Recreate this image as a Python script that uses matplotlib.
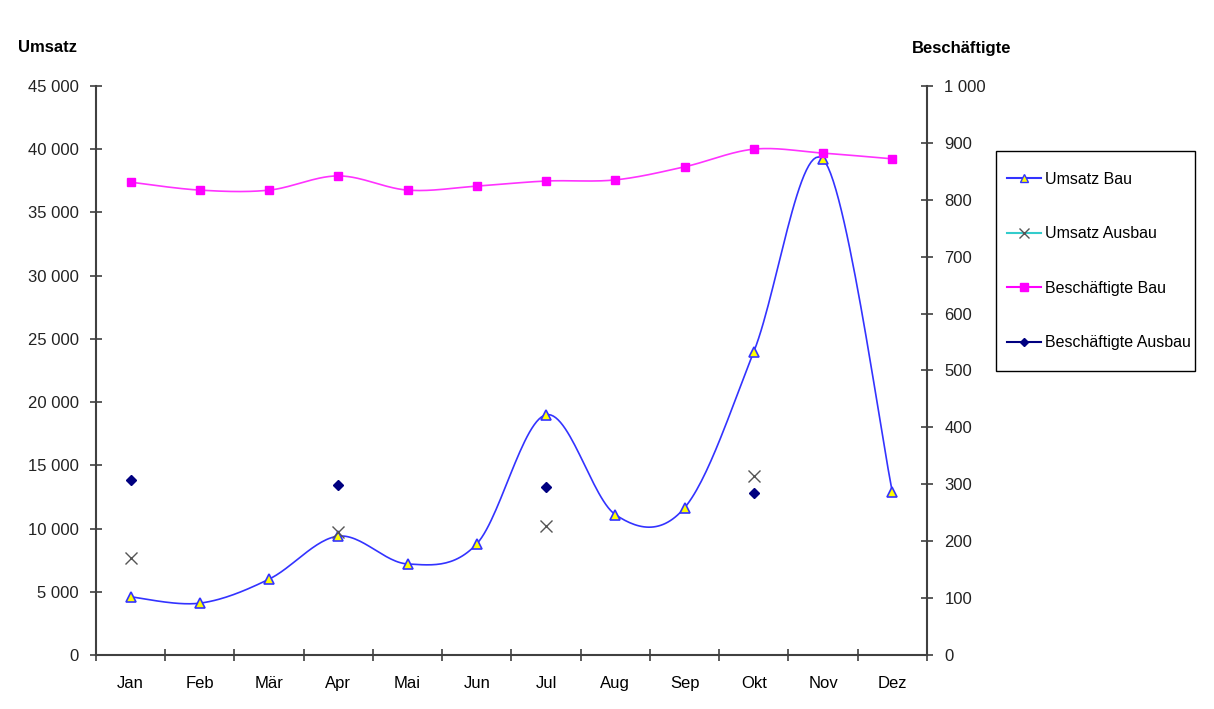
import numpy as np
import matplotlib.pyplot as plt
from matplotlib.lines import Line2D
from matplotlib.patches import Rectangle

plt.rcParams['font.family'] = ['Liberation Sans', 'DejaVu Sans']

# Daten
monate = ['Jan', 'Feb', 'Mär', 'Apr', 'Mai', 'Jun', 'Jul', 'Aug', 'Sep', 'Okt', 'Nov', 'Dez']
umsatz_bau = [4600, 4100, 6000, 9400, 7200, 8800, 19000, 11100, 11650, 24000, 39200, 12900]
umsatz_ausbau = [7700, np.nan, np.nan, 9750, np.nan, np.nan, 10200, np.nan, np.nan, 14150, np.nan, np.nan]
besch_bau = [831, 817, 817, 842, 817, 824, 833, 835, 858, 889, 882, 872]
besch_ausbau = [307, np.nan, np.nan, 299, np.nan, np.nan, 295, np.nan, np.nan, 285, np.nan, np.nan]


def glatt(x, y, n=30):
    # Bezier-Glättung wie in Excel (Catmull-Rom)
    x = np.asarray(x, float)
    y = np.asarray(y, float)
    xs, ys = [], []
    for i in range(len(x) - 1):
        i0, i3 = max(i - 1, 0), min(i + 2, len(x) - 1)
        p0, p1, p2, p3 = [np.array([x[k], y[k]]) for k in (i0, i, i + 1, i3)]
        c1 = p1 + (p2 - p0) / 6
        c2 = p2 - (p3 - p1) / 6
        t = np.linspace(0, 1, n)[:, None]
        b = (1 - t) ** 3 * p1 + 3 * (1 - t) ** 2 * t * c1 + 3 * (1 - t) * t ** 2 * c2 + t ** 3 * p2
        xs.extend(b[:, 0])
        ys.extend(b[:, 1])
    return xs, ys


x = np.arange(len(monate))

fig = plt.figure(figsize=(12.14, 7.09), dpi=100)
ax = fig.add_axes([96 / 1214, 54 / 709, 831 / 1214, 569 / 709])
ax2 = ax.twinx()

blau = '#3333FF'
ax.plot(*glatt(x, umsatz_bau), color=blau, lw=1.2, zorder=3)
ax.plot(x, umsatz_bau, ls='none', marker='^', ms=7, mfc='#FFFF00', mec=blau, mew=1.2, zorder=4)
ax.plot(x, umsatz_ausbau, ls='none', marker='x', ms=8, mec='#555555', mew=1.0, zorder=4)

ax2.plot(*glatt(x, besch_bau), color='#FF33FF', lw=1.2, zorder=3)
ax2.plot(x, besch_bau, ls='none', marker='s', ms=6, color='#FF00FF', zorder=4)
ax2.plot(x, besch_ausbau, ls='none', marker='D', ms=5, color='#000080', zorder=4)

ax.set_xlim(-0.5, 11.5)
ax.set_ylim(0, 45000)
ax2.set_ylim(0, 1000)
ax.set_yticks(np.arange(0, 45001, 5000))
ax2.set_yticks(np.arange(0, 1001, 100))
fmt = lambda v: f'{int(v):,}'.replace(',', ' ')
ax.set_yticklabels([fmt(v) for v in np.arange(0, 45001, 5000)])
ax2.set_yticklabels([fmt(v) for v in np.arange(0, 1001, 100)])

ax.set_xticks(np.arange(-0.5, 12, 1))
ax.set_xticklabels([])
ax.set_xticks(x, minor=True)
ax.set_xticklabels(monate, minor=True)
ax.tick_params(axis='x', which='minor', length=0, pad=15, labelsize=12, colors='black')

achse = '#404040'
for a in (ax, ax2):
    for s in ('top', 'right', 'left', 'bottom'):
        a.spines[s].set_visible(False)
ax.spines['left'].set_visible(True)
ax.spines['bottom'].set_visible(True)
ax2.spines['right'].set_visible(True)
for s in (ax.spines['left'], ax.spines['bottom'], ax2.spines['right']):
    s.set_color(achse)
    s.set_linewidth(1.5)
ax.tick_params(axis='y', direction='inout', length=9, width=1.2, color=achse, labelsize=12, pad=8)
ax.tick_params(axis='x', which='major', direction='inout', length=9, width=1.2, color=achse)
ax2.tick_params(axis='y', direction='inout', length=9, width=1.2, color=achse, labelsize=12, pad=8)
for lab in ax.get_yticklabels() + ax2.get_yticklabels():
    lab.set_color('#222222')

fig.text(18 / 1214, 1 - 48 / 709, 'Umsatz', fontsize=12, fontweight='bold', va='center')
fig.text(912 / 1214, 1 - 48 / 709, 'Beschäftigte', fontsize=12, fontweight='bold', va='center')

# Legende mit eigenem Rahmen
fig.patches.append(Rectangle((996 / 1214, 1 - 371 / 709), 199 / 1214, 220 / 709,
                             transform=fig.transFigure, fill=False, edgecolor='black', lw=1.0))
handles = [
    Line2D([], [], color=blau, marker='^', mfc='#FFFF00', mec=blau, ms=6),
    Line2D([], [], color='#33CCCC', marker='x', mec='#555555', ms=7),
    Line2D([], [], color='#FF00FF', marker='s', ms=6),
    Line2D([], [], color='#000080', marker='D', ms=4),
]
namen = ['Umsatz Bau', 'Umsatz Ausbau', 'Beschäftigte Bau', 'Beschäftigte Ausbau']
fig.legend(handles, namen, loc='upper left', bbox_to_anchor=(1007 / 1214, 1 - 172 / 709),
           fontsize=11.5, frameon=False, labelspacing=2.47, handlelength=2.1,
           handletextpad=0.25, borderpad=0, borderaxespad=0)

fig.savefig('out.png', dpi=100, facecolor='white')
